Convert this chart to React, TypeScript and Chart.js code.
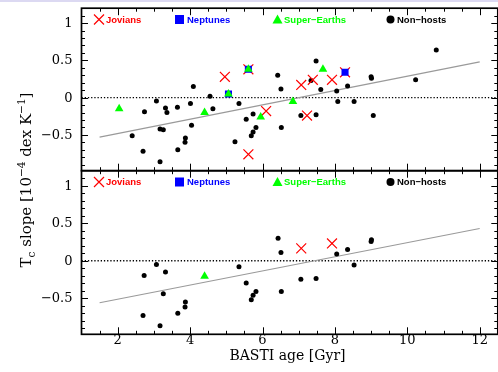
import React, { useEffect, useRef } from 'react';
import { Chart, registerables } from 'chart.js';

Chart.register(...registerables);

// ---------- axis settings ----------
const X_MIN = 1;
const X_MAX = 12.5;
const Y_MIN = -0.98;
const Y_MAX = 1.2;
const xTickValues = [2, 4, 6, 8, 10, 12];
const xTickLabels = ['2', '4', '6', '8', '10', '12'];
const yTickValues = [-0.5, 0, 0.5, 1];
const yTickLabels = ['\u22120.5', '0', '0.5', '1'];
const zeroLevel = 0;

// ---------- top panel ----------
const topJoviansAge = [4.96, 5.61, 5.61, 6.1, 7.07, 7.23, 7.39, 7.92, 8.28];
const topJoviansSlope = [0.28, 0.38, -0.76, -0.18, 0.17, -0.24, 0.24, 0.24, 0.34];
const topNeptunesAge = [5.06, 5.61, 8.28];
const topNeptunesSlope = [0.05, 0.38, 0.34];
const topSuperEarthsAge = [2.04, 4.4, 5.06, 5.61, 5.95, 6.84, 7.67];
const topSuperEarthsSlope = [-0.15, -0.2, 0.05, 0.38, -0.26, -0.05, 0.38];
const topNonHostsAge = [
  2.4, 2.7, 2.74, 3.07, 3.17, 3.26, 3.17, 3.32, 3.36, 3.65, 3.66, 3.86, 3.87, 4.01,
  4.04, 4.09, 4.55, 4.63, 5.24, 5.35, 5.55, 5.69, 5.74, 5.74, 5.82, 6.42, 6.51, 6.52,
  7.06, 7.34, 7.48, 7.48, 7.61, 8.05, 8.08, 8.35, 8.53, 9.0, 9.01, 9.06, 10.23, 10.8,
];
const topNonHostsSlope = [
  -0.51, -0.72, -0.19, -0.045, -0.42, -0.43, -0.86, -0.14, -0.2, -0.13, -0.7, -0.6, -0.54, -0.08,
  -0.37, 0.15, 0.02, -0.15, -0.59, -0.08, -0.29, -0.51, -0.46, -0.22, -0.4, 0.3, 0.115, -0.4,
  -0.24, 0.23, 0.49, -0.23, 0.11, 0.09, -0.05, 0.155, -0.05, 0.28, 0.26, -0.24, 0.24, 0.64,
];
const topFitAge = [1.5, 12];
const topFitSlope = [-0.53, 0.48];

// ---------- bottom panel ----------
const botJoviansAge = [7.07, 7.92];
const botJoviansSlope = [0.165, 0.23];
const botNeptunesAge: number[] = [];
const botNeptunesSlope: number[] = [];
const botSuperEarthsAge = [4.4];
const botSuperEarthsSlope = [-0.205];
const botNonHostsAge = [
  2.73, 2.7, 3.07, 3.17, 3.26, 3.32, 3.66, 3.86, 3.87, 5.35, 5.55, 5.69, 5.74, 5.82,
  6.43, 6.51, 6.52, 7.06, 7.48, 8.05, 8.35, 8.53, 9.0, 9.01,
];
const botNonHostsSlope = [
  -0.195, -0.73, -0.05, -0.865, -0.44, -0.15, -0.7, -0.615, -0.55, -0.08, -0.295, -0.52, -0.46, -0.41,
  0.3, 0.11, -0.41, -0.245, -0.235, 0.09, 0.15, -0.055, 0.255, 0.28,
];
const botFitAge = [1.5, 12];
const botFitSlope = [-0.56, 0.43];

const legendLabels = ['Jovians', 'Neptunes', 'Super\u2212Earths', 'Non\u2212hosts'];

const GREEN = '#00ff00';
const W = 506;
const H = 372;
const PLOT_LEFT = 81.5;
const PLOT_RIGHT = 500.1;

const zip = (xs: number[], ys: number[]) => xs.map((x, i) => ({ x, y: ys[i] }));

function drawLegend(ctx: CanvasRenderingContext2D, top: number) {
  const cy = top + 11.3;
  ctx.save();
  ctx.font = 'bold 9.5px "Liberation Sans", Arial, sans-serif';
  ctx.textBaseline = 'middle';
  ctx.textAlign = 'left';
  // Jovians
  ctx.strokeStyle = '#ff0000';
  ctx.lineWidth = 1.2;
  ctx.beginPath();
  ctx.moveTo(94, cy - 5);
  ctx.lineTo(104, cy + 5);
  ctx.moveTo(104, cy - 5);
  ctx.lineTo(94, cy + 5);
  ctx.stroke();
  ctx.fillStyle = '#ff0000';
  ctx.fillText(legendLabels[0], 106, cy + 0.5);
  // Neptunes
  ctx.fillStyle = '#0000ff';
  ctx.fillRect(175, cy - 4.5, 9, 9);
  ctx.fillText(legendLabels[1], 187, cy + 0.5);
  // Super-Earths
  ctx.fillStyle = GREEN;
  ctx.beginPath();
  ctx.moveTo(277.5, cy - 5);
  ctx.lineTo(282.5, cy + 4);
  ctx.lineTo(272.5, cy + 4);
  ctx.closePath();
  ctx.fill();
  ctx.fillText(legendLabels[2], 284, cy + 0.5);
  // Non-hosts
  ctx.fillStyle = '#000000';
  ctx.beginPath();
  ctx.arc(390.5, cy, 4, 0, Math.PI * 2);
  ctx.fill();
  ctx.fillText(legendLabels[3], 397, cy + 0.5);
  ctx.restore();
}

function makeFramePlugin(showXLabels: boolean, showYTitle: boolean) {
  return {
    id: 'frameTicks',
    afterDraw(chart: any) {
      const ctx: CanvasRenderingContext2D = chart.ctx;
      const ca = chart.chartArea;
      const xs = chart.scales.x;
      const ys = chart.scales.y;
      ctx.save();
      ctx.strokeStyle = '#000';
      ctx.lineWidth = 1;
      // x ticks (every 0.5, major on labelled values)
      for (let i = 2; i <= 25; i++) {
        const v = i * 0.5;
        if (v <= X_MIN || v >= X_MAX) continue;
        const px = Math.round(xs.getPixelForValue(v)) + 0.5;
        const len = xTickValues.includes(v) ? 7 : 3.5;
        ctx.beginPath();
        ctx.moveTo(px, ca.bottom);
        ctx.lineTo(px, ca.bottom - len);
        ctx.moveTo(px, ca.top);
        ctx.lineTo(px, ca.top + len);
        ctx.stroke();
      }
      // y ticks (every 0.1, major every 0.5)
      for (let k = -9; k <= 12; k++) {
        const v = k / 10;
        if (v <= Y_MIN || v >= Y_MAX) continue;
        const py = Math.round(ys.getPixelForValue(v)) + 0.5;
        const len = k % 5 === 0 ? 6.5 : 3.5;
        ctx.beginPath();
        ctx.moveTo(ca.left, py);
        ctx.lineTo(ca.left + len, py);
        ctx.moveTo(ca.right, py);
        ctx.lineTo(ca.right - len, py);
        ctx.stroke();
      }
      // frame
      ctx.lineWidth = 1.7;
      ctx.strokeRect(ca.left, ca.top, ca.right - ca.left, ca.bottom - ca.top);

      // y tick labels
      ctx.fillStyle = '#000';
      ctx.font = '13px "DejaVu Serif", serif';
      ctx.textAlign = 'right';
      ctx.textBaseline = 'middle';
      yTickValues.forEach((v, i) => {
        ctx.fillText(yTickLabels[i], 72.5, ys.getPixelForValue(v) + 0.5);
      });

      if (showXLabels) {
        ctx.textAlign = 'center';
        ctx.textBaseline = 'alphabetic';
        xTickValues.forEach((v, i) => {
          ctx.fillText(xTickLabels[i], xs.getPixelForValue(v), 343.5);
        });
        ctx.font = '14px "DejaVu Serif", serif';
        ctx.fillText('BASTI age [Gyr]', (118 + 409) / 2 + 24, 359.5);
      }

      if (showYTitle) {
        const big = '15px "DejaVu Serif", serif';
        const small = '10.5px "DejaVu Serif", serif';
        const parts: [string, string, number][] = [
          ['T', big, 0],
          ['c', small, 4],
          [' slope [10', big, 0],
          ['\u22124', small, -6],
          [' dex K', big, 0],
          ['\u22121', small, -6],
          [']', big, 0],
        ];
        let total = 0;
        parts.forEach(([t, f]) => {
          ctx.font = f;
          total += ctx.measureText(t).width;
        });
        ctx.save();
        ctx.translate(31, 180);
        ctx.rotate(-Math.PI / 2);
        ctx.textAlign = 'left';
        ctx.textBaseline = 'alphabetic';
        let x = -total / 2;
        parts.forEach(([t, f, dy]) => {
          ctx.font = f;
          ctx.fillText(t, x, dy);
          x += ctx.measureText(t).width;
        });
        ctx.restore();
      }

      drawLegend(ctx, ca.top);
      ctx.restore();
    },
  };
}

interface PanelProps {
  top: number;
  bottom: number;
  jovAge: number[];
  jovSlope: number[];
  nepAge: number[];
  nepSlope: number[];
  seAge: number[];
  seSlope: number[];
  nhAge: number[];
  nhSlope: number[];
  fitAge: number[];
  fitSlope: number[];
  showXLabels: boolean;
  showYTitle: boolean;
}

function Panel(p: PanelProps) {
  const ref = useRef<HTMLCanvasElement | null>(null);
  useEffect(() => {
    if (!ref.current) return;
    const chart = new Chart(ref.current, {
      type: 'scatter',
      data: {
        datasets: [
          {
            label: 'Super-Earths',
            data: zip(p.seAge, p.seSlope),
            pointStyle: 'triangle',
            pointRadius: 5,
            backgroundColor: GREEN,
            borderColor: GREEN,
            borderWidth: 0,
          },
          {
            label: 'Neptunes',
            data: zip(p.nepAge, p.nepSlope),
            pointStyle: 'rect',
            pointRadius: 5,
            backgroundColor: '#0000ff',
            borderColor: '#0000ff',
            borderWidth: 0,
          },
          {
            label: 'Jovians',
            data: zip(p.jovAge, p.jovSlope),
            pointStyle: 'crossRot',
            pointRadius: 7,
            backgroundColor: '#ff0000',
            borderColor: '#ff0000',
            borderWidth: 1.2,
          },
          {
            label: 'Non-hosts',
            data: zip(p.nhAge, p.nhSlope),
            pointStyle: 'circle',
            pointRadius: 2.5,
            backgroundColor: '#000',
            borderColor: '#000',
            borderWidth: 0,
          },
          {
            type: 'line',
            label: 'fit',
            data: zip(p.fitAge, p.fitSlope),
            borderColor: '#9a9a9a',
            borderWidth: 1.2,
            pointRadius: 0,
            fill: false,
          } as any,
          {
            type: 'line',
            label: 'zero',
            data: [
              { x: X_MIN, y: zeroLevel },
              { x: X_MAX, y: zeroLevel },
            ],
            borderColor: '#000',
            borderWidth: 1.3,
            borderDash: [1.3, 1.9],
            pointRadius: 0,
            fill: false,
          } as any,
        ],
      },
      options: {
        responsive: false,
        animation: false,
        devicePixelRatio: 1,
        events: [],
        layout: {
          padding: {
            left: PLOT_LEFT,
            right: W - PLOT_RIGHT,
            top: p.top,
            bottom: H - p.bottom,
          },
        },
        scales: {
          x: { type: 'linear', min: X_MIN, max: X_MAX, display: false },
          y: { type: 'linear', min: Y_MIN, max: Y_MAX, display: false },
        },
        plugins: {
          legend: { display: false },
          tooltip: { enabled: false },
        },
      },
      plugins: [makeFramePlugin(p.showXLabels, p.showYTitle)],
    });
    return () => chart.destroy();
  }, []);
  return (
    <canvas
      ref={ref}
      width={W}
      height={H}
      style={{ position: 'absolute', left: 0, top: 0, width: W, height: H, display: 'block' }}
    />
  );
}

export default function App() {
  return (
    <div
      style={{
        position: 'absolute',
        left: 0,
        top: 0,
        width: 498,
        height: 372,
        overflow: 'hidden',
        background: '#fff',
      }}
    >
      <Panel
        top={7.3}
        bottom={170.7}
        jovAge={topJoviansAge}
        jovSlope={topJoviansSlope}
        nepAge={topNeptunesAge}
        nepSlope={topNeptunesSlope}
        seAge={topSuperEarthsAge}
        seSlope={topSuperEarthsSlope}
        nhAge={topNonHostsAge}
        nhSlope={topNonHostsSlope}
        fitAge={topFitAge}
        fitSlope={topFitSlope}
        showXLabels={false}
        showYTitle={false}
      />
      <Panel
        top={170.7}
        bottom={334.3}
        jovAge={botJoviansAge}
        jovSlope={botJoviansSlope}
        nepAge={botNeptunesAge}
        nepSlope={botNeptunesSlope}
        seAge={botSuperEarthsAge}
        seSlope={botSuperEarthsSlope}
        nhAge={botNonHostsAge}
        nhSlope={botNonHostsSlope}
        fitAge={botFitAge}
        fitSlope={botFitSlope}
        showXLabels={true}
        showYTitle={true}
      />
      <div
        style={{
          position: 'absolute',
          left: 0,
          top: 0,
          width: 498,
          height: 2,
          background: '#dcd9f2',
        }}
      />
    </div>
  );
}
